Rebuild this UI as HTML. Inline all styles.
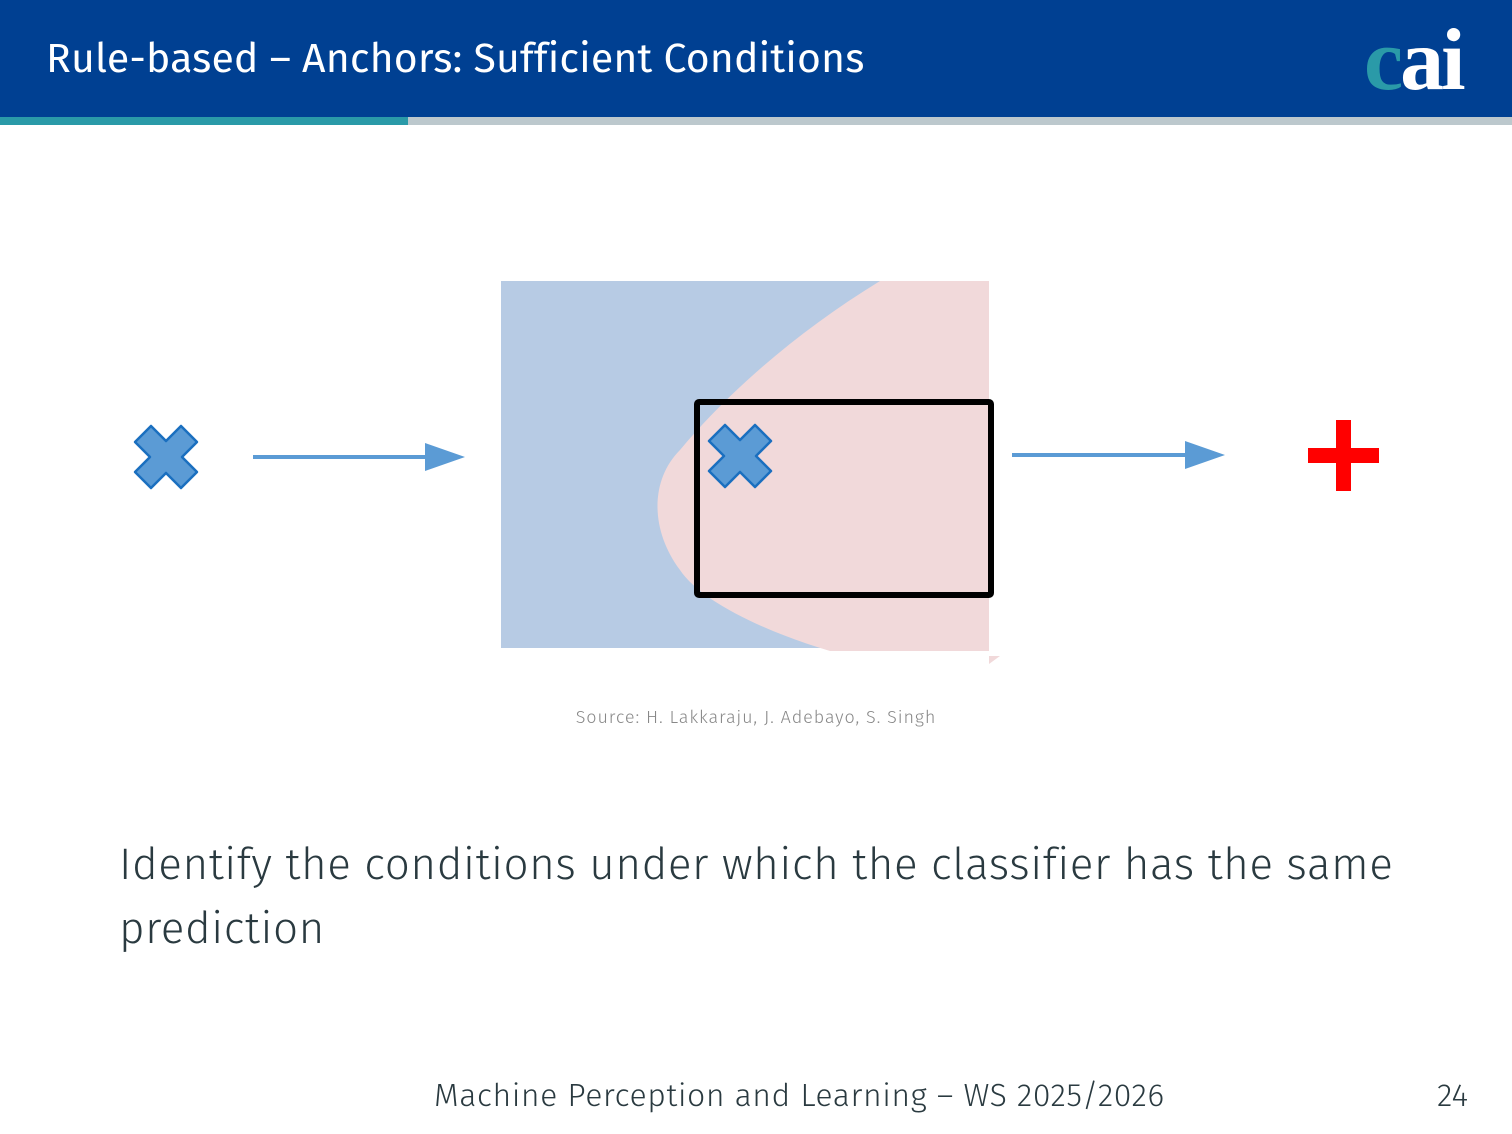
<!DOCTYPE html>
<html><head><meta charset="utf-8"><style>
body{margin:0;width:1512px;height:1134px;background:#fff;position:relative;overflow:hidden;font-family:"Fira Sans","Liberation Sans",sans-serif}
.hdr{position:absolute;left:0;top:0;width:1512px;height:117px;background:#004092}
.t{position:absolute;left:46px;top:34px;color:#fff;font-size:41px;letter-spacing:0.14px}
.s1{position:absolute;left:0;top:117px;width:408px;height:8px;background:#2a9aa8}
.s2{position:absolute;left:408px;top:117px;width:1104px;height:8px;background:#bcc8cd}
.logo{position:absolute;left:1364px;top:10px;font-family:"Liberation Serif",serif;font-size:88px;font-weight:bold;color:#fff;letter-spacing:-3px}
.src{position:absolute;left:0;width:1512px;text-align:center;top:706px;font-size:18px;color:#888;font-weight:300;letter-spacing:0.9px}
.body{position:absolute;left:119px;top:833px;font-size:44px;color:#2a3a40;line-height:64px;letter-spacing:0.57px;font-weight:300}
.foot{position:absolute;left:434px;top:1077px;font-size:32px;color:#2a3a40;font-weight:300;letter-spacing:0.56px}
.pg{position:absolute;left:1437px;top:1077px;font-size:32px;color:#2a3a40;font-weight:300}
</style></head><body>
<div class="hdr"></div><div class="t">Rule-based – Anchors: Sufficient Conditions</div>
<div class="logo"><span style="color:#2a9aa8">c</span>ai</div>
<div class="s1"></div><div class="s2"></div>
<svg width="1512" height="1134" style="position:absolute;left:0;top:0">
<defs><path id="x" d="M-15 -31 L0 -16 L15 -31 L31 -15 L16 0 L31 15 L15 31 L0 16 L-15 31 L-31 15 L-16 0 L-31 -15Z" fill="#5b9bd5" stroke="#1a6fbf" stroke-width="2.5" stroke-linejoin="round"/></defs>
<rect x="501" y="281" width="488" height="367" fill="#b7cbe4"/>
<path d="M880 281 L989 281 L989 651 L830 651 C760 630 700 600 680 570 C650 530 650 480 680 450 C730 390 800 330 880 281Z" fill="#f1d9da"/>
<path d="M989 656 L1000 656 L989 664Z" fill="#f1d9da"/>
<rect x="697" y="402" width="294" height="193" fill="none" stroke="#000" stroke-width="6" rx="2"/>
<use href="#x" transform="translate(166,457)"/>
<use href="#x" transform="translate(740,456)"/>
<g fill="#5b9bd5" stroke="#5b9bd5">
<line x1="253" y1="457" x2="430" y2="457" stroke-width="4"/>
<path d="M425 443 L465 457 L425 471Z" stroke="none"/>
<line x1="1012" y1="455" x2="1190" y2="455" stroke-width="4"/>
<path d="M1185 441 L1225 455 L1185 469Z" stroke="none"/>
</g>
<rect x="1336" y="420" width="15" height="71" fill="#f00"/>
<rect x="1308" y="448" width="71" height="15" fill="#f00"/>
</svg>
<div class="src">Source: H. Lakkaraju, J. Adebayo, S. Singh</div>
<div class="body">Identify the conditions under which the classifier has the same<br>prediction</div>
<div class="foot">Machine Perception and Learning – WS 2025/2026</div>
<div class="pg">24</div>
</body></html>
